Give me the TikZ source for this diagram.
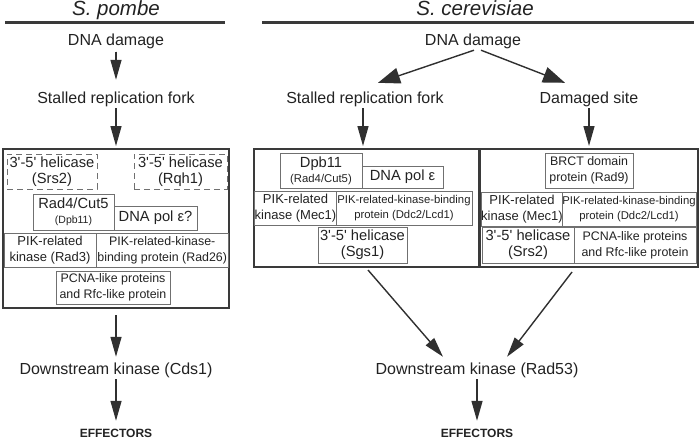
\documentclass[tikz,border=0pt]{standalone}
\usepackage{fontspec}
\setmainfont{Liberation Sans}
\usetikzlibrary{arrows.meta}

\definecolor{framec}{HTML}{3A3A3A}
\definecolor{boxc}{HTML}{707070}
\definecolor{arrc}{HTML}{303030}
\definecolor{textc}{HTML}{222222}

\newcommand{\sq}{\textquotesingle}
\newcommand{\ttlfont}{\fontsize{20.5}{23}\selectfont}
\newcommand{\labfont}{\fontsize{16}{18}\selectfont}
\newcommand{\bxbig}{\fontsize{14.7}{16}\selectfont}
\newcommand{\bxmid}{\fontsize{13}{15.5}\selectfont}
\newcommand{\bxsm}{\fontsize{12.4}{15}\selectfont}
\newcommand{\bxxs}{\fontsize{11.3}{13.5}\selectfont}
\newcommand{\bxtiny}{\fontsize{10.5}{12}\selectfont}
\newcommand{\efffont}{\fontsize{12}{14}\selectfont}

\tikzset{
	ttl/.style={font=\itshape\ttlfont, inner sep=0pt, anchor=base},
	rule/.style={line width=3pt, draw=framec},
	lab/.style={font=\labfont, inner sep=0pt, text height=12pt, text depth=3.5pt, anchor=base},
	eff/.style={font=\bfseries\efffont, inner sep=0pt, text height=9pt, text depth=0pt, anchor=base},
	frame/.style={draw=framec, line width=2pt, inner sep=0pt, outer sep=0pt},
	bx/.style={draw=boxc, line width=1pt, inner sep=0pt, outer sep=0pt, align=center},
	dbx/.style={bx, dashed, dash pattern=on 6pt off 4pt},
	arr/.style={-{Triangle[length=20pt,width=11pt]}, line width=1.4pt, draw=arrc, fill=arrc},
	bigarr/.style={-{Triangle[length=22pt,width=16pt]}, line width=1.4pt, draw=arrc, fill=arrc}
}

\begin{document}
\begin{tikzpicture}[x=1pt, y=-1pt, every node/.append style={text=textc}]
		\useasboundingbox (0,0) rectangle (700,439);
		%%Start of figure. titles
			\node[ttl] (pombe) at (116,16) {S. pombe};
			\draw[rule](5,22) to (225,22);
			\node[ttl] (cerev) at (475,16) {S. cerevisiae};
			\draw[rule](262,22) to (694,22);

			%S. pombe column%
			\node[lab] (dnaL) at (116,45) {DNA damage};
			\node[lab] (forkL) at (116,103) {Stalled replication fork};
			\node[frame, minimum width=226pt, minimum height=159pt] (frameL) at (116,228.5) {};
			\node[dbx, font=\bxbig, minimum width=90pt, minimum height=35pt] (srsL) at (52,171.5) {3\sq-5\sq\ helicase\\(Srs2)};
			\node[dbx, font=\bxbig, minimum width=93pt, minimum height=35pt] (rqh) at (180.5,171.5) {3\sq-5\sq\ helicase\\(Rqh1)};
			\node[bx, font=\bxbig, minimum width=81pt, minimum height=36pt] (rad4) at (73.5,212) {Rad4/Cut5\\[-1pt]{\bxtiny (Dpb11)}};
			\node[bx, font=\bxbig, minimum width=83pt, minimum height=24pt] (polL) at (155.5,218) {DNA pol ε?};
			\node[bx, font=\bxmid, minimum width=92pt, minimum height=34pt] (rad3) at (50,250) {PIK-related\\[1pt]kinase (Rad3)};
			\node[bx, font=\bxsm, minimum width=132.5pt, minimum height=34pt] (rad26) at (162.25,250) {PIK-related-kinase-\\[1pt]binding protein (Rad26)};
			\node[bx, font=\bxsm, minimum width=114pt, minimum height=33pt] (pcnaL) at (113,287.5) {PCNA-like proteins\\[1pt]and Rfc-like protein};
			\node[lab] (cds1) at (116,374) {Downstream kinase (Cds1)};
			\node[eff] (effL) at (116,437) {EFFECTORS};

			%S. cerevisiae columns%
			\node[lab] (dnaR) at (473,45) {DNA damage};
			\node[lab] (forkR) at (365,103) {Stalled replication fork};
			\node[lab] (siteR) at (589,103) {Damaged site};

			\node[frame, minimum width=225pt, minimum height=118pt] (frameM) at (366.5,208) {};
			\node[bx, font=\bxbig, minimum width=82pt, minimum height=35pt] (dpb) at (321,170.5) {Dpb11\\[-1pt]{\bxxs (Rad4/Cut5)}};
			\node[bx, font=\bxbig, minimum width=81pt, minimum height=22pt] (polM) at (402.5,177) {DNA pol ε};
			\node[bx, font=\bxmid, minimum width=81pt, minimum height=34pt] (mec1M) at (295.5,208) {PIK-related\\[1pt]kinase (Mec1)};
			\node[bx, font=\bxxs, minimum width=136pt, minimum height=34pt] (ddcM) at (404,208) {PIK-related-kinase-binding\\[1pt]protein (Ddc2/Lcd1)};
			\node[bx, font=\bxbig, minimum width=89pt, minimum height=36pt] (sgs) at (362.5,245) {3\sq-5\sq\ helicase\\(Sgs1)};

			\node[frame, minimum width=218pt, minimum height=118pt] (frameR) at (589,208) {};
			\node[bx, font=\bxsm, minimum width=88pt, minimum height=35pt] (brct) at (589,170.5) {BRCT domain\\[1pt]protein (Rad9)};
			\node[bx, font=\bxmid, minimum width=80pt, minimum height=34pt] (mec1R) at (522,209) {PIK-related\\[1pt]kinase (Mec1)};
			\node[bx, font=\bxxs, minimum width=134pt, minimum height=34pt] (ddcR) at (629,209) {PIK-related-kinase-binding\\[1pt]protein (Ddc2/Lcd1)};
			\node[bx, font=\bxbig, minimum width=92pt, minimum height=36pt] (srsR) at (528,245) {3\sq-5\sq\ helicase\\(Srs2)};
			\node[bx, font=\bxsm, minimum width=122pt, minimum height=36pt] (pcnaR) at (635,245) {PCNA-like proteins\\[1pt]and Rfc-like protein};

			\node[lab] (rad53) at (477,374) {Downstream kinase (Rad53)};
			\node[eff] (effR) at (477,437) {EFFECTORS};

			%arrows%
			\draw[arr]([yshift=-3pt]dnaL.south) to ([yshift=11pt]forkL.north);
			\draw[arr]([yshift=-1.5pt]forkL.south) to ([yshift=3pt]frameL.north);
			\draw[arr]([yshift=-7pt]frameL.south) to ([yshift=5pt]cds1.north);
			\draw[arr]([yshift=-1.5pt]cds1.south) to ([yshift=7pt]effL.north);

			\draw[bigarr]([xshift=1pt,yshift=-1.5pt]dnaR.south) to ([xshift=13pt,yshift=8pt]forkR.north);
			\draw[bigarr]([xshift=8pt,yshift=-1.5pt]dnaR.south) to ([xshift=-24pt,yshift=8pt]siteR.north);
			\draw[arr]([xshift=-2pt,yshift=-1.5pt]forkR.south) to ([xshift=-3.5pt,yshift=3pt]frameM.north);
			\draw[arr]([yshift=-1.5pt]siteR.south) to ([yshift=3pt]frameR.north);
			\draw[arr]([xshift=1.5pt,yshift=-3pt]frameM.south) to ([xshift=-34pt,yshift=5pt]rad53.north);
			\draw[arr]([xshift=-17pt,yshift=-5pt]frameR.south) to ([xshift=30pt,yshift=5pt]rad53.north);
			\draw[arr]([yshift=-1.5pt]rad53.south) to ([yshift=7pt]effR.north);
		\end{tikzpicture}
\end{document}
